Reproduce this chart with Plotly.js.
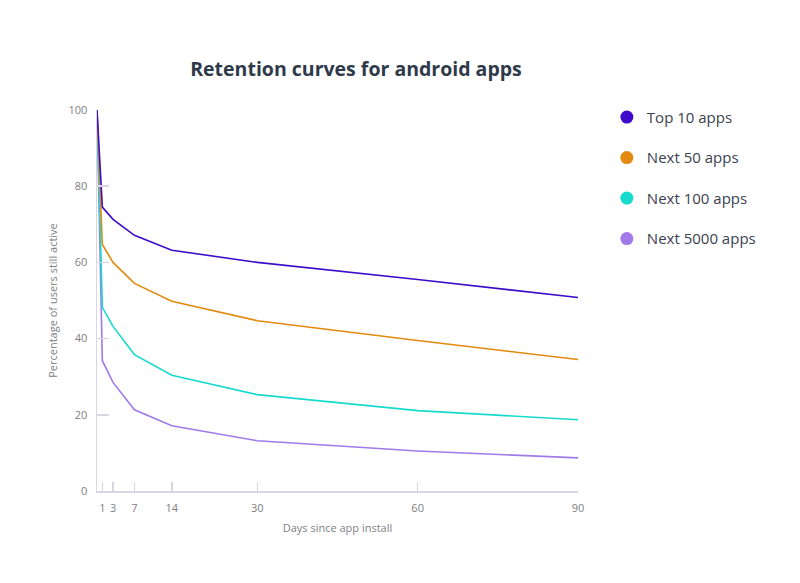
<!DOCTYPE html>
<html>
<head>
<meta charset="utf-8">
<script src="https://cdn.plot.ly/plotly-3.0.1.min.js"></script>
<style>
  html, body { margin: 0; padding: 0; background: #fff; }
  #chart { width: 800px; height: 583px; }
</style>
</head>
<body>
<div id="chart"></div>
<script>
var days = [0, 1, 3, 7, 14, 30, 60, 90];
var tickDays = [1, 3, 7, 14, 30, 60, 90];

var seriesNames = ["Top 10 apps", "Next 50 apps", "Next 100 apps", "Next 5000 apps"];
var top10 = [100, 74.5, 71.3, 67.1, 63.2, 60.0, 55.5, 50.8];
var next50 = [100, 64.7, 60.0, 54.5, 49.8, 44.7, 39.5, 34.5];
var next100 = [100, 48.2, 43.2, 35.8, 30.4, 25.3, 21.1, 18.7];
var next5000 = [100, 34.2, 28.5, 21.3, 17.1, 13.2, 10.5, 8.7];
var colors = ["#3d0bc9", "#e3890f", "#16dbcc", "#a07ae8"];

var fontFam = "'Open Sans', 'DejaVu Sans', sans-serif";
var axisCol = "#d9d5e3";

var values = [top10, next50, next100, next5000];
var traces = [];

// the curves themselves
for (var i = values.length - 1; i >= 0; i--) {
  traces.push({
    x: days,
    y: values[i],
    type: "scatter",
    mode: "lines",
    line: { color: colors[i], width: 1.6 },
    showlegend: false,
    hoverinfo: "x+y",
    name: seriesNames[i]
  });
}

// round dots for the legend
for (var j = 0; j < seriesNames.length; j++) {
  traces.push({
    x: [null],
    y: [null],
    type: "scatter",
    mode: "markers",
    marker: { color: colors[j], size: 13, symbol: "circle" },
    name: seriesNames[j],
    legendgroup: "g" + j,
    showlegend: true
  });
}

var layout = {
  width: 800,
  height: 583,
  paper_bgcolor: "#ffffff",
  plot_bgcolor: "#ffffff",
  margin: { l: 97, r: 222, t: 110, b: 92 },
  font: { family: fontFam, color: "#808085", size: 11 },
  title: {
    text: "<b>Retention curves for android apps</b>",
    font: { family: fontFam, size: 19.5, color: "#2e3a4a" },
    x: 0.445,
    xanchor: "center",
    y: 0.882,
    yanchor: "middle"
  },
  xaxis: {
    range: [0, 90],
    tickvals: tickDays,
    ticktext: tickDays.map(String),
    ticks: "inside",
    ticklen: 9,
    tickcolor: axisCol,
    tickwidth: 1.5,
    ticklabelstandoff: 6,
    showline: true,
    linecolor: axisCol,
    linewidth: 1.5,
    showgrid: false,
    zeroline: false,
    tickfont: { size: 11, color: "#808085" },
    title: { text: "Days since app install", font: { size: 11, color: "#808085" }, standoff: 10 }
  },
  yaxis: {
    range: [0, 100],
    tickvals: [0, 20, 40, 60, 80, 100],
    ticks: "inside",
    ticklen: 12,
    tickcolor: axisCol,
    tickwidth: 1.5,
    ticklabelstandoff: 6,
    showline: true,
    linecolor: axisCol,
    linewidth: 1.5,
    showgrid: false,
    zeroline: false,
    tickfont: { size: 11, color: "#808085" },
    title: { text: "Percentage of users still active", font: { size: 11, color: "#808085" }, standoff: 8 }
  },
  legend: {
    x: 1.06,
    y: 1.024,
    xanchor: "left",
    yanchor: "top",
    traceorder: "grouped",
    tracegroupgap: 18,
    itemwidth: 30,
    font: { size: 15, color: "#3a4250" },
    bgcolor: "rgba(0,0,0,0)"
  },
  showlegend: true
};

Plotly.newPlot("chart", traces, layout, { displayModeBar: false, staticPlot: true });
</script>
</body>
</html>
